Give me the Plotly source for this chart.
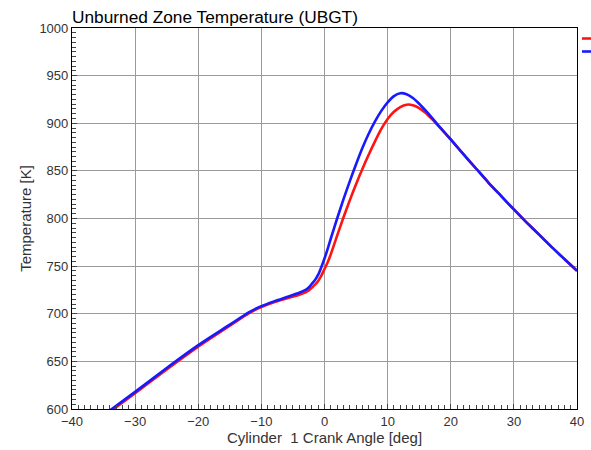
import plotly.graph_objects as go

# Crank angle [deg] (shared by both series)
crank_angle = [-34, -30, -25, -20, -15, -12, -10, -8, -6, -4, -3, -2.5, -2, -1.5, -1, -0.5, 0, 0.5, 1,
               2, 3, 4, 5, 6, 7, 8, 9, 10, 11, 12, 13, 14, 15, 16, 17, 18, 20, 22, 24, 26, 28, 30,
               32, 34, 36, 38, 40]
# Unburned zone temperature [K]
temp_red = [597, 616.5, 641.5, 665.5, 687.5, 700.5, 707, 712, 716, 720, 722.5, 724.5, 727.5, 730.5,
            734.5, 740, 747, 754, 762.5, 782, 801, 819, 836, 852, 867, 881, 894, 904.5, 912, 917,
            919.5, 919, 916, 911, 904.5, 897.5, 883, 867.5, 852.5, 837.5, 823.5, 809.5, 796, 783,
            770, 757.5, 745]
temp_blue = [598.5, 618, 643, 667, 688.5, 701.5, 708, 713, 717.5, 722, 725, 727.5, 731.5, 735.5,
             741, 749, 758, 768, 779, 800, 820, 839, 857, 874, 889, 902, 913, 922, 928.5, 931.5,
             930.5, 926.5, 920.5, 913.5, 906, 898, 883, 867.5, 852.5, 837.5, 823.5, 809.5, 796,
             783, 770, 757.5, 745]

x_ticks = [-40, -30, -20, -10, 0, 10, 20, 30, 40]
y_ticks = [600, 650, 700, 750, 800, 850, 900, 950, 1000]

FONT = "Liberation Sans, Arial"

fig = go.Figure()
fig.add_trace(go.Scatter(x=crank_angle, y=temp_red, mode="lines", name="", legend="legend",
                         line=dict(color="rgb(255,20,20)", width=2.6, shape="spline", smoothing=0.6)))
fig.add_trace(go.Scatter(x=crank_angle, y=temp_blue, mode="lines", name="", legend="legend2",
                         line=dict(color="rgb(25,25,255)", width=2.6, shape="spline", smoothing=0.6)))

axis_common = dict(
    showline=True, linecolor="black", linewidth=1.2, mirror=True,
    showgrid=True, gridcolor="rgb(155,155,155)", gridwidth=1,
    ticks="inside", ticklen=5, tickcolor="#444", zeroline=False,
    tickfont=dict(family=FONT, size=13, color="#333"),
)

legend_common = dict(x=1.0, xanchor="left", yanchor="top", bgcolor="rgba(0,0,0,0)",
                     font=dict(family=FONT, size=9, color="black"), itemwidth=30)

fig.update_layout(
    width=591, height=450,
    margin=dict(l=72, r=14, t=28, b=41, autoexpand=False),
    paper_bgcolor="white", plot_bgcolor="white",
    title=dict(text="Unburned Zone Temperature (UBGT)", x=72/591, xanchor="left",
               y=1 - 17/450, yanchor="middle",
               font=dict(family=FONT, size=17.3, color="black")),
    showlegend=True,
    legend=dict(y=1 + 4/381, **legend_common),
    legend2=dict(y=1 - 9/381, **legend_common),
    font=dict(family=FONT),
)
fig.update_xaxes(range=[-40, 40], tickvals=x_ticks,
                 minor=dict(dtick=1, ticks="inside", ticklen=4, tickcolor="#444", showgrid=False),
                 title=dict(text="Cylinder  1 Crank Angle [deg]", standoff=1,
                            font=dict(family=FONT, size=15, color="#333")),
                 **axis_common)
fig.update_yaxes(range=[600, 1000], tickvals=y_ticks,
                 minor=dict(dtick=5, ticks="inside", ticklen=4, tickcolor="#444", showgrid=False),
                 title=dict(text="Temperature [K]", standoff=4,
                            font=dict(family=FONT, size=15, color="#333")),
                 **axis_common)

fig.write_html("out.html")
